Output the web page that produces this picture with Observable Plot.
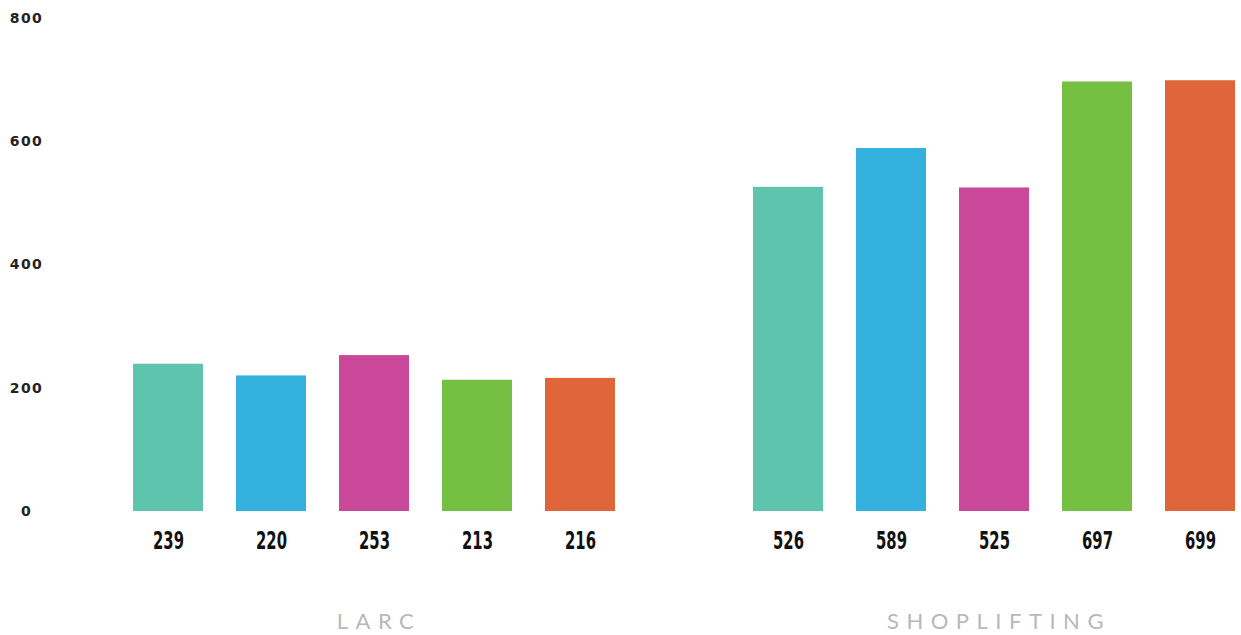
<!DOCTYPE html>
<html>
<head>
<meta charset="utf-8">
<script src="https://cdn.jsdelivr.net/npm/d3@7"></script>
<script src="https://cdn.jsdelivr.net/npm/@observablehq/plot@0.6"></script>
<style>
  html, body { margin: 0; padding: 0; background: #fff; }
  #chart svg { display: block; }
</style>
</head>
<body>
<div id="chart"></div>
<script>
const groups = ["LARC", "SHOPLIFTING"];
const series = ["Series 1", "Series 2", "Series 3", "Series 4", "Series 5"];
const larcValues = [239, 220, 253, 213, 216];
const shopliftingValues = [526, 589, 525, 697, 699];
const colors = ["#5fc4ad", "#33b0de", "#ca4899", "#75bf43", "#e0653a"];
const yTicks = [0, 200, 400, 600, 800];

const rows = [];
series.forEach((s, i) => rows.push({group: groups[0], series: s, value: larcValues[i]}));
series.forEach((s, i) => rows.push({group: groups[1], series: s, value: shopliftingValues[i]}));

const chart = Plot.plot({
  width: 1241,
  height: 635,
  marginLeft: 133,
  marginRight: 5,
  marginTop: 18,
  marginBottom: 124,
  style: {background: "#fff"},
  fx: {domain: groups, axis: null, label: null, paddingInner: 0.221, paddingOuter: 0},
  x: {domain: series, axis: null, label: null, paddingInner: 0.32, paddingOuter: 0},
  y: {domain: [0, 800], axis: null, label: null},
  color: {domain: series, range: colors},
  marks: [
    Plot.barY(rows, {fx: "group", x: "series", y: "value", fill: "series"}),
    Plot.text(rows, {
      fx: "group", x: "series", y: 0, text: d => String(d.value),
      dy: 30, lineAnchor: "middle", textAnchor: "middle",
      fontFamily: "DejaVu Sans, sans-serif",
      fontWeight: "bold", fontSize: 24, fill: "#111"
    }),
    Plot.text(groups, {
      fx: d => d, text: d => d, frameAnchor: "bottom",
      dy: 110, dx: 4, lineAnchor: "middle", textAnchor: "middle",
      fontFamily: "Lato, 'Open Sans', sans-serif", fontWeight: 400,
      fontSize: 22, fill: "#b8b8b8"
    }),
    Plot.axisY(yTicks, {
      facetAnchor: "left", label: null,
      tickSize: 0, tickPadding: 107, textAnchor: "middle",
      fontFamily: "DejaVu Sans, sans-serif", fontWeight: "bold",
      fontSize: 14, fill: "#222", tickFormat: d => String(d)
    })
  ]
});

const valueStrings = rows.map(d => String(d.value));
d3.select(chart).selectAll("text").each(function() {
  const t = this.textContent;
  const sel = d3.select(this);
  if (groups.includes(t)) {
    sel.attr("letter-spacing", "7.5px");
  } else if (valueStrings.includes(t)) {
    sel.attr("textLength", 31).attr("lengthAdjust", "spacingAndGlyphs");
  }
});
d3.select(chart).selectAll("g[aria-label^='y-axis'] text").attr("letter-spacing", "1.5px");
document.getElementById("chart").appendChild(chart);
</script>
</body>
</html>
